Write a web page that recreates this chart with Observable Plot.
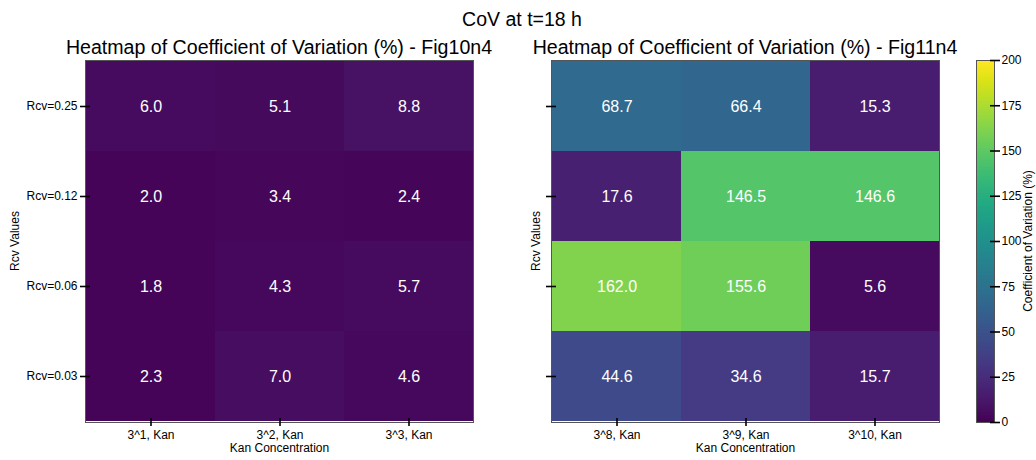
<!DOCTYPE html>
<html>
<head>
<meta charset="utf-8">
<script src="https://cdn.jsdelivr.net/npm/d3@7"></script>
<script src="https://cdn.jsdelivr.net/npm/@observablehq/plot@0.6"></script>
<style>
  html, body { margin: 0; padding: 0; background: white; }
  #root { position: relative; width: 1036px; height: 460px; font-family: "Liberation Sans", Arial, sans-serif; color: #000; overflow: hidden; }
  .abs { position: absolute; }
  .ttl { white-space: nowrap; text-align: center; line-height: 1; }
  .rot { position: absolute; white-space: nowrap; font-size: 12px; line-height: 1; transform: translate(-50%, -50%) rotate(-90deg); }
</style>
</head>
<body>
<div id="root">
  <div class="abs ttl" style="left:4px;width:1036px;top:10px;font-size:19.5px;">CoV at t=18 h</div>
  <div class="abs ttl" style="left:29px;width:500px;top:38px;font-size:19.6px;">Heatmap of Coefficient of Variation (%) - Fig10n4</div>
  <div class="abs ttl" style="left:495px;width:500px;top:38px;font-size:19.6px;">Heatmap of Coefficient of Variation (%) - Fig11n4</div>
  <div class="abs" id="p1" style="left:0;top:55px;"></div>
  <div class="abs" id="p2" style="left:480px;top:55px;"></div>
  <div class="abs" id="cb" style="left:960px;top:55px;"></div>
  <div class="rot" style="left:15px;top:241px;">Rcv Values</div>
  <div class="rot" style="left:536px;top:241px;">Rcv Values</div>
  <div class="rot" style="left:1028px;top:241px;">Coefficient of Variation (%)</div>
</div>
<script>
// ---- data ----
const rcvLabels = ["Rcv=0.25", "Rcv=0.12", "Rcv=0.06", "Rcv=0.03"];
const kanLeft = ["3^1, Kan", "3^2, Kan", "3^3, Kan"];
const kanRight = ["3^8, Kan", "3^9, Kan", "3^10, Kan"];
const covFig10n4 = [
  [6.0, 5.1, 8.8],
  [2.0, 3.4, 2.4],
  [1.8, 4.3, 5.7],
  [2.3, 7.0, 4.6]
];
const covFig11n4 = [
  [68.7, 66.4, 15.3],
  [17.6, 146.5, 146.6],
  [162.0, 155.6, 5.6],
  [44.6, 34.6, 15.7]
];
const colorDomain = [0, 200];
const colorTicks = [0, 25, 50, 75, 100, 125, 150, 175, 200];

const FONT = '"Liberation Sans", Arial, sans-serif';

function table(kan, values) {
  const rows = [];
  rcvLabels.forEach((r, i) => kan.forEach((k, j) => rows.push({rcv: r, kan: k, value: values[i][j]})));
  return rows;
}

function heatmap(kan, values, showYLabels, marginLeft) {
  const data = table(kan, values);
  const frameW = 388, frameH = 362;
  return Plot.plot({
    width: marginLeft + frameW + 10,
    height: 5 + frameH + 43,
    marginLeft, marginRight: 10, marginTop: 5, marginBottom: 43,
    style: {fontFamily: FONT, fontSize: "12px", color: "#000", background: "transparent", overflow: "visible"},
    x: {domain: kan, padding: 0, label: null, axis: null},
    y: {domain: rcvLabels, padding: 0, label: null, axis: null},
    color: {type: "linear", scheme: "viridis", domain: colorDomain},
    marks: [
      Plot.cell(data, {x: "kan", y: "rcv", fill: "value", inset: 0}),
      Plot.text(data, {x: "kan", y: "rcv", text: d => d.value.toFixed(1), fill: "white", fontSize: 16}),
      Plot.frame({stroke: "#555", strokeWidth: 1}),
      Plot.axisX({tickSize: 8, dy: -4, text: null, stroke: "black", strokeWidth: 1.6}),
      Plot.axisX({tickSize: 0, tickPadding: 8, label: null, fontSize: 12, fill: "black"}),
      Plot.axisY({tickSize: 10, dx: 5, text: null, stroke: "black", strokeWidth: 1.6}),
      showYLabels ? Plot.axisY({tickSize: 0, tickPadding: 8, label: null, fontSize: 12, fill: "black"}) : null,
      Plot.text(["Kan Concentration"], {frameAnchor: "bottom", lineAnchor: "top", dy: 21, fontSize: 12, fill: "black"})
    ]
  });
}

document.getElementById("p1").append(heatmap(kanLeft, covFig10n4, true, 85));
document.getElementById("p2").append(heatmap(kanRight, covFig11n4, false, 71));

// colorbar
const cb = Plot.plot({
  width: 76, height: 410,
  marginLeft: 16, marginRight: 42, marginTop: 5, marginBottom: 43,
  style: {fontFamily: FONT, fontSize: "12px", color: "#000", background: "transparent", overflow: "visible"},
  x: {domain: [0, 1], axis: null},
  y: {domain: colorDomain, axis: null},
  color: {type: "linear", scheme: "viridis", domain: colorDomain},
  marks: [
    Plot.raster({fill: (x, y) => y, x1: 0, x2: 1, y1: colorDomain[0], y2: colorDomain[1], width: 1, height: 362, imageRendering: "auto"}),
    Plot.frame({stroke: "#555", strokeWidth: 1}),
    Plot.axisY({anchor: "right", ticks: colorTicks, tickSize: 10, dx: -5, text: null, stroke: "black", strokeWidth: 1.6}),
    Plot.axisY({anchor: "right", ticks: colorTicks, tickSize: 0, tickPadding: 7, label: null, fontSize: 12, fill: "black"})
  ]
});
document.getElementById("cb").append(cb);
</script>
</body>
</html>
